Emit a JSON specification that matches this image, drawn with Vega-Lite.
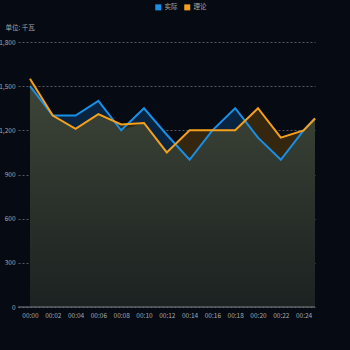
{
  "$schema": "https://vega.github.io/schema/vega-lite/v6.json",
  "autosize": {"type": "none"},
  "width": 297,
  "height": 265,
  "padding": {"left": 18, "top": 42, "right": 35, "bottom": 43},
  "background": "#050a13",
  "config": {
    "view": {"stroke": null},
    "font": "Noto Sans CJK SC",
    "axis": {"labelColor": "#a8a8a8", "labelFontSize": 6.5, "titleColor": "#a8a8a8", "titleFontSize": 6.5, "titleFontWeight": "normal"}
  },
  "datasets": {
    "series": [
      {"t": 0, "s": "实际", "v": 1500}, {"t": 2, "s": "实际", "v": 1300}, {"t": 4, "s": "实际", "v": 1300},
      {"t": 6, "s": "实际", "v": 1400}, {"t": 8, "s": "实际", "v": 1200}, {"t": 10, "s": "实际", "v": 1350},
      {"t": 12, "s": "实际", "v": 1170}, {"t": 14, "s": "实际", "v": 1000}, {"t": 16, "s": "实际", "v": 1200},
      {"t": 18, "s": "实际", "v": 1350}, {"t": 20, "s": "实际", "v": 1150}, {"t": 22, "s": "实际", "v": 1000},
      {"t": 24, "s": "实际", "v": 1200}, {"t": 25, "s": "实际", "v": 1280},
      {"t": 0, "s": "理论", "v": 1550}, {"t": 2, "s": "理论", "v": 1300}, {"t": 4, "s": "理论", "v": 1210},
      {"t": 6, "s": "理论", "v": 1310}, {"t": 8, "s": "理论", "v": 1240}, {"t": 10, "s": "理论", "v": 1250},
      {"t": 12, "s": "理论", "v": 1050}, {"t": 14, "s": "理论", "v": 1200}, {"t": 16, "s": "理论", "v": 1200},
      {"t": 18, "s": "理论", "v": 1200}, {"t": 20, "s": "理论", "v": 1350}, {"t": 22, "s": "理论", "v": 1150},
      {"t": 24, "s": "理论", "v": 1200}, {"t": 25, "s": "理论", "v": 1280}
    ],
    "lower": [
      {"t": 0, "v": 1500}, {"t": 2, "v": 1300}, {"t": 4, "v": 1210}, {"t": 6, "v": 1310},
      {"t": 7.38, "v": 1262}, {"t": 8, "v": 1200}, {"t": 10, "v": 1250}, {"t": 12, "v": 1050},
      {"t": 12.75, "v": 1106}, {"t": 14, "v": 1000}, {"t": 16, "v": 1200}, {"t": 18, "v": 1200},
      {"t": 18.86, "v": 1264}, {"t": 20, "v": 1150}, {"t": 22, "v": 1000}, {"t": 24, "v": 1200},
      {"t": 25, "v": 1280}
    ]
  },
  "encoding": {
    "x": {
      "field": "t", "type": "quantitative",
      "scale": {"domain": [-1.05, 25], "nice": false, "zero": false},
      "axis": {
        "values": [0, 2, 4, 6, 8, 10, 12, 14, 16, 18, 20, 22, 24],
        "labelExpr": "'00:' + (datum.value < 10 ? '0' : '') + datum.value",
        "title": null, "grid": false, "domain": false, "ticks": false, "labelPadding": 5
      }
    },
    "y": {
      "field": "v", "type": "quantitative",
      "scale": {"domain": [0, 1800], "nice": false},
      "axis": {
        "values": [0, 300, 600, 900, 1200, 1500, 1800],
        "format": ",.0f",
        "title": "单位: 千瓦", "titleAngle": 0, "titleAlign": "left", "titleBaseline": "middle",
        "titleX": -13, "titleY": -15,
        "domain": false, "ticks": false, "labelPadding": 3,
        "gridColor": "#6a6e75", "gridDash": [2, 2], "gridWidth": 0.8
      }
    }
  },
  "layer": [
    {
      "data": {"name": "series"},
      "transform": [{"filter": "datum.s === '实际'"}],
      "mark": {"type": "area", "color": "#082440", "opacity": 1},
      "encoding": {}
    },
    {
      "data": {"name": "series"},
      "transform": [{"filter": "datum.s === '理论'"}],
      "mark": {"type": "area", "color": "#35260f", "opacity": 1},
      "encoding": {}
    },
    {
      "data": {"name": "lower"},
      "mark": {
        "type": "area", "opacity": 1,
        "color": {"gradient": "linear", "x1": 0, "y1": 0, "x2": 0, "y2": 1,
          "stops": [{"offset": 0, "color": "#3d4437"}, {"offset": 1, "color": "#1b2221"}]}
      },
      "encoding": {}
    },
    {
      "data": {"values": [{"v": 0}]},
      "mark": {"type": "rule", "color": "#7a7e85", "strokeWidth": 1.2},
      "encoding": {"x": {"value": 0}, "x2": {"value": 297}}
    },
    {
      "data": {"name": "series"},
      "mark": {"type": "line", "strokeWidth": 2},
      "encoding": {
        "color": {
          "field": "s", "type": "nominal",
          "scale": {"domain": ["实际", "理论"], "range": ["#1a8fe6", "#f5a01c"]},
          "legend": {
            "title": null, "orient": "none", "direction": "horizontal",
            "legendX": 137, "legendY": -38,
            "symbolType": "square", "symbolSize": 36,
            "labelColor": "#a8a8a8", "labelFontSize": 6.5, "columnPadding": 6, "labelOffset": 3,
            "encode": {"symbols": {"update": {"fill": {"scale": "color", "field": "value"}, "fillOpacity": {"value": 1}, "strokeWidth": {"value": 0}}}}
          }
        }
      }
    }
  ]
}
